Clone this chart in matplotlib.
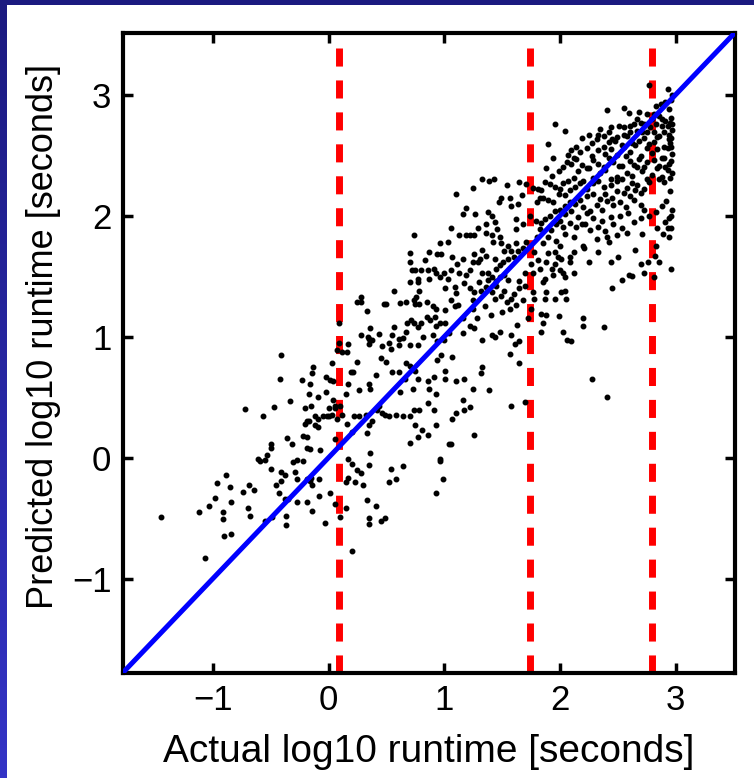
import matplotlib
matplotlib.use('Agg')
import matplotlib.pyplot as plt
import numpy as np
from matplotlib.patches import Rectangle
from matplotlib.colors import LinearSegmentedColormap

plt.rcParams['font.family'] = ['Liberation Sans', 'DejaVu Sans']

# actual vs predicted log10 runtime
low_actual = [-1.45, -1.07, -1.12, -1.03, -0.98, -0.96, -0.89, -0.85, -0.84, -0.91,
              -0.91, -0.90, -0.84, -0.74, -0.69, -0.64, -0.70, -0.68, -0.72, -0.57,
              -0.47, -0.61, -0.59, -0.55, -0.53, -0.50, -0.50, -0.50, -0.55, -0.49,
              -0.45, -0.41, -0.41, -0.38, -0.43, -0.38, -0.35, -0.37, -0.37, -0.36,
              -0.32, -0.31, -0.27, -0.22, -0.29, -0.27, -0.27, -0.19, -0.14, -0.03,
              -0.19, -0.16, -0.15, -0.14, -0.08, -0.08, -0.22, -0.19, -0.19, -0.16,
              -0.07, -0.19, -0.20, -0.17, -0.12, -0.09, -0.05, -0.01, -0.12, -0.09,
              -0.15, -0.20, 0.00, -0.41, -0.42, -0.33, 0.20]
low_predicted = [-0.49, -0.83, -0.45, -0.40, -0.33, -0.21, -0.14, -0.24, -0.37, -0.45,
                 -0.51, -0.65, -0.63, -0.28, -0.23, -0.27, -0.42, -0.48, 0.40, 0.34,
                 0.42, -0.01, -0.03, -0.02, 0.02, 0.11, 0.08, -0.09, -0.52, -0.49,
                 -0.23, -0.19, -0.12, -0.14, -0.29, -0.34, -0.34, -0.48, -0.56, 0.16,
                 0.11, -0.04, -0.02, -0.03, -0.12, -0.18, -0.37, -0.37, -0.44, -0.54,
                 -0.18, -0.19, -0.17, -0.23, -0.32, -0.18, 0.18, 0.17, 0.08, 0.07,
                 0.06, 0.30, 0.28, 0.30, 0.34, 0.32, 0.34, 0.34, 0.27, 0.25,
                 0.43, 0.41, 0.41, 0.85, 0.65, 0.47, -0.77]

mid_actual = [0.28, 0.25, 0.28, 0.33, 0.57, 0.48, 0.50, 0.62, 0.67, 0.74,
              0.76, 0.78, 0.75, 0.78, 0.85, 0.90, 0.93, 1.01, 1.01, 1.09,
              1.10, 1.06, 1.09, 1.12, 0.70, 0.77,
              0.09, 0.09, 0.17, 0.28, 0.34, 0.35, 0.35, 0.36, 0.44, 0.38,
              0.52, 0.55, 0.57, 0.61, 0.64, 0.67, 0.68, 0.71, 0.74, 0.77,
              0.80, 0.85, 0.88, 0.92, 0.93, 0.96, 1.01, 1.04, 0.90, 0.82,
              0.77, 0.70, 0.61, 0.54, 0.46, 0.94, 1.00,
              0.12, 0.16, 0.07, 0.03, -0.02, 0.01, 0.04, -0.13, -0.14, -0.23,
              -0.16, -0.17, -0.09, -0.02, 0.04, 0.06, 0.10, 0.15, 0.17, 0.19,
              0.21, 0.26, 0.25, 0.35, 0.36, 0.41, 0.45, 0.50, 0.55, 0.61,
              0.67, 0.66, 0.62, 0.73, 0.77, 0.86, 0.87, 0.93, 0.91, 1.01,
              1.01, 0.97, 0.94, 1.07, 1.10, 0.75, 0.70,
              0.00, 0.03, 0.06, 0.07, 0.12, 0.16, 0.22, 0.26, 0.32, 0.35,
              0.38, 0.44, 0.42, 0.46, 0.49, 0.52, 0.58, 0.64, 0.70, 0.74,
              0.78, 0.86, 0.91, 0.75, 0.81, 0.86, 0.77, 0.93, 1.07, 1.10,
              0.70, 1.04, 0.06, 0.20, 0.33,
              0.36, 0.35, 0.17, 0.20, 0.25, 0.28, 0.17, 0.30, 0.23, 0.15,
              0.33, 0.41, 0.35, 0.35, 0.45, 0.49, 0.52, 0.58, 0.64, 0.54,
              0.96, 0.96, 0.99, 0.93, 1.06, 0.01, 0.06, 0.15, 0.10]
mid_predicted = [1.33, 1.29, 1.29, 1.21, 1.38, 1.27, 1.27, 1.28, 1.29, 1.30,
                 1.33, 1.38, 1.27, 1.27, 1.29, 1.25, 1.23, 1.22, 1.40, 1.41,
                 1.36, 1.30, 1.25, 1.26, 1.45, 1.45,
                 1.11, 0.95, 0.94, 1.01, 1.00, 0.94, 0.98, 1.07, 1.02, 0.97,
                 0.95, 1.01, 1.08, 0.98, 0.99, 1.04, 1.11, 1.14, 1.11, 1.08,
                 1.11, 1.16, 1.14, 1.16, 1.09, 1.11, 1.11, 1.03, 1.01, 1.00,
                 0.93, 0.93, 0.93, 0.90, 0.92, 0.96, 0.97,
                 0.87, 0.87, 0.89, 0.78, 0.67, 0.64, 0.63, 0.75, 0.70, 0.64,
                 0.61, 0.53, 0.50, 0.54, 0.48, 0.43, 0.43, 0.53, 0.61, 0.71,
                 0.71, 0.56, 0.79, 0.61, 0.57, 0.68, 0.82, 0.79, 0.71, 0.71,
                 0.78, 0.65, 0.54, 0.57, 0.65, 0.63, 0.57, 0.53, 0.67, 0.72,
                 0.65, 0.85, 0.81, 0.83, 0.63, 0.72, 0.76,
                 0.34, 0.35, 0.41, 0.32, 0.35, 0.28, 0.34, 0.34, 0.35, 0.27,
                 0.30, 0.43, 0.39, 0.37, 0.35, 0.34, 0.35, 0.34, 0.34, 0.39,
                 0.39, 0.45, 0.39, 0.27, 0.23, 0.19, 0.17, 0.27, 0.32, 0.37,
                 0.12, 0.11, 0.15, 0.21, 0.20,
                 0.04, -0.06, -0.01, -0.05, -0.10, -0.13, -0.17, -0.23, -0.20, -0.20,
                 -0.35, -0.40, -0.50, -0.55, -0.52, -0.50, -0.20, -0.18, -0.07, -0.09,
                 -0.01, -0.03, -0.18, -0.29, 0.11, -0.29, -0.38, -0.42, -0.49]

upper_actual = [1.10, 1.25, 1.33, 1.39, 1.43, 1.54, 1.65, 1.49, 1.47, 1.57,
                1.58, 1.64, 1.67, 1.71, 1.77, 1.81, 1.83, 1.80, 1.74, 1.79,
                1.83, 1.16, 1.19, 1.27, 1.38, 1.41, 1.44, 1.62, 1.68, 1.62,
                1.06, 1.13, 1.19, 1.22, 1.26, 1.29, 1.36, 1.36, 1.41, 1.46,
                1.48, 1.49, 1.42, 1.52, 1.55, 1.58, 1.62, 1.64, 1.68, 1.71,
                1.60, 1.55, 1.51, 1.44, 1.36, 1.33, 1.31, 1.26, 1.29, 1.25,
                1.22, 1.19, 1.13, 1.11, 1.16, 1.07, 1.03, 0.96, 0.94, 0.97,
                0.87, 0.83, 0.91, 0.93, 0.86, 1.00, 1.06, 0.87, 0.96, 1.03,
                1.33, 1.38, 1.41, 1.45, 1.48, 1.48, 1.52, 1.45, 1.70, 1.65,
                1.75, 1.77, 1.81, 1.83,
                1.17, 1.22, 1.26, 1.32, 1.36, 1.41, 1.44, 1.49, 1.54, 1.58,
                1.57, 1.65, 1.62, 1.75, 1.77, 1.78, 1.25, 1.22, 1.16, 1.16,
                1.26, 1.33, 1.41, 1.44, 1.48, 1.58, 1.61, 1.65, 1.57, 1.65,
                1.33, 1.32, 1.25, 1.39, 1.17, 1.16, 1.22, 1.17, 1.58, 1.70,
                1.26, 0.74, 0.70, 0.70, 0.72, 0.75, 0.80, 0.77]
upper_predicted = [2.18, 2.23, 2.30, 2.29, 2.30, 2.25, 2.28, 2.15, 2.11, 2.15,
                   2.08, 2.10, 2.17, 2.26, 2.23, 2.22, 2.15, 2.11, 2.00, 1.96,
                   1.89, 2.01, 2.06, 2.01, 2.03, 2.00, 1.95, 1.97, 1.93, 1.89,
                   1.90, 1.84, 1.84, 1.84, 1.84, 1.90, 1.93, 1.86, 1.84, 1.89,
                   1.82, 1.77, 1.78, 1.71, 1.75, 1.71, 1.77, 1.71, 1.73, 1.78,
                   1.66, 1.64, 1.62, 1.64, 1.67, 1.72, 1.64, 1.68, 1.62, 1.62,
                   1.55, 1.51, 1.53, 1.60, 1.64, 1.66, 1.78, 1.77, 1.68, 1.68,
                   1.70, 1.63, 1.56, 1.53, 1.55, 1.53, 1.55, 1.48, 1.49, 1.48,
                   1.53, 1.53, 1.49, 1.56, 1.59, 1.49, 1.51, 1.46, 1.53, 1.46,
                   1.60, 1.53, 1.63, 1.56,
                   1.44, 1.40, 1.37, 1.38, 1.41, 1.37, 1.31, 1.34, 1.29, 1.31,
                   1.23, 1.40, 1.26, 1.23, 1.37, 1.31, 1.23, 1.09, 1.15, 1.03,
                   1.07, 0.97, 1.01, 1.00, 1.04, 1.01, 0.94, 0.96, 0.86, 0.78,
                   0.75, 0.70, 0.57, 0.56, 0.65, 0.48, 0.42, 0.39, 0.43, 0.46,
                   0.19, 1.84, 1.69, 1.62, 1.55, 1.55, 1.55, 1.48]

top_actual = [2.77, 2.93, 2.83, 2.87, 2.91, 2.94, 2.96, 2.97, 1.96, 2.04,
              2.41, 2.55, 2.60, 2.68, 2.67, 2.75, 2.80, 2.81, 2.86, 2.88,
              2.91, 2.96, 2.95, 2.97, 2.93, 2.88, 2.83, 2.78, 2.73, 2.70,
              2.64, 2.61, 2.55, 2.51, 2.44, 2.35, 2.33, 2.38, 2.42, 2.45,
              2.49, 2.55, 2.61, 2.67, 2.71, 2.75, 2.81, 2.86, 2.90, 2.94,
              2.97, 2.96, 2.95, 2.94, 2.90, 2.84, 2.81, 2.77, 2.73, 2.68,
              2.62, 2.58, 2.54, 2.48, 2.42, 2.38, 2.32, 2.28, 2.25, 2.19,
              2.14, 2.10, 2.07, 2.12, 2.17, 2.23, 2.28, 2.33, 2.39, 2.44,
              2.49, 2.55, 2.61, 2.65, 2.70, 2.75, 2.80, 2.84, 2.88, 2.93,
              2.97, 2.96, 1.90, 1.94, 1.88, 1.93, 1.99, 2.03, 2.06, 2.10,
              2.14, 2.19, 2.23, 2.29, 2.33, 2.38, 2.42, 2.46, 2.51, 2.57,
              2.61, 2.64, 2.68, 2.73, 2.75, 2.81, 2.86, 2.90, 2.94, 2.96,
              2.95, 2.97, 2.93, 2.88, 2.84, 2.80, 2.75, 2.71, 2.67, 2.62,
              2.58, 2.54, 2.49, 2.44, 2.39, 2.35, 2.29, 2.25, 2.20, 2.16,
              2.12, 2.07, 2.03, 2.00, 1.96, 1.91, 1.87, 1.84, 1.85, 1.90,
              1.94, 1.99, 2.04, 2.09, 2.13, 2.17, 2.23, 2.29, 2.33, 2.38,
              2.44, 2.49, 2.54, 2.58, 2.62, 2.67, 2.73, 2.77, 2.70, 2.65,
              2.61, 2.55, 2.49, 2.45, 2.39, 2.35, 2.29, 2.23, 2.17, 2.13,
              2.09, 2.04, 2.00, 1.96, 1.91, 1.87, 1.84, 2.20, 2.26, 2.32,
              2.36, 2.41, 2.46, 2.52, 2.57, 2.64, 2.70, 2.73, 2.59, 2.52,
              2.44, 2.36, 2.29, 2.23, 2.16, 2.10, 2.04, 2.00, 1.97, 2.03,
              2.09, 2.14, 2.22, 2.26, 2.33, 2.39, 2.46, 2.54, 2.64, 2.70,
              2.77, 2.83, 2.91, 2.96, 2.84, 2.93, 2.94, 2.83, 2.71, 2.58,
              2.49, 2.41, 2.32, 2.20, 2.12, 2.04, 1.97, 1.90, 2.19]
top_predicted = [3.08, 3.05, 2.91, 2.92, 2.94, 2.88, 2.96, 3.00, 2.76, 2.70,
                 2.87, 2.89, 2.85, 2.86, 2.80, 2.84, 2.80, 2.84, 2.82, 2.80,
                 2.78, 2.81, 2.77, 2.76, 2.74, 2.74, 2.76, 2.73, 2.76, 2.77,
                 2.76, 2.74, 2.73, 2.74, 2.73, 2.72, 2.67, 2.66, 2.69, 2.63,
                 2.65, 2.67, 2.69, 2.70, 2.69, 2.69, 2.69, 2.66, 2.69, 2.67,
                 2.71, 2.64, 2.60, 2.63, 2.57, 2.65, 2.61, 2.59, 2.64, 2.62,
                 2.60, 2.66, 2.58, 2.62, 2.61, 2.57, 2.63, 2.60, 2.67, 2.64,
                 2.57, 2.54, 2.50, 2.48, 2.53, 2.56, 2.49, 2.54, 2.51, 2.55,
                 2.50, 2.57, 2.53, 2.58, 2.49, 2.56, 2.52, 2.55, 2.48, 2.56,
                 2.51, 2.57, 2.59, 2.48, 2.39, 2.33, 2.37, 2.40, 2.44, 2.43,
                 2.47, 2.42, 2.39, 2.46, 2.43, 2.40, 2.48, 2.44, 2.41, 2.49,
                 2.45, 2.42, 2.47, 2.40, 2.44, 2.46, 2.41, 2.48, 2.43, 2.45,
                 2.31, 2.35, 2.38, 2.32, 2.39, 2.34, 2.30, 2.37, 2.40, 2.33,
                 2.35, 2.41, 2.32, 2.30, 2.38, 2.35, 2.31, 2.39, 2.29, 2.37,
                 2.31, 2.29, 2.27, 2.22, 2.24, 2.26, 2.28, 2.21, 2.15, 2.13,
                 2.11, 2.18, 2.17, 2.21, 2.24, 2.27, 2.22, 2.27, 2.29, 2.24,
                 2.25, 2.29, 2.30, 2.23, 2.27, 2.25, 2.22, 2.28, 2.19, 2.21,
                 2.16, 2.19, 2.20, 2.15, 2.18, 2.14, 2.18, 2.16, 2.13, 2.10,
                 2.11, 2.08, 2.05, 2.04, 2.00, 1.97, 1.94, 2.07, 2.04, 2.09,
                 2.05, 2.12, 2.09, 2.11, 2.07, 2.13, 2.09, 2.05, 2.02, 2.00,
                 1.99, 1.96, 1.98, 2.02, 1.99, 2.04, 2.01, 1.96, 1.93, 1.91,
                 1.94, 1.91, 1.93, 1.88, 1.91, 1.87, 1.93, 1.90, 1.95, 1.98,
                 2.00, 2.03, 1.95, 2.00, 1.90, 1.90, 1.82, 1.75, 1.85, 1.86,
                 1.84, 1.82, 1.81, 1.75, 1.82, 1.85, 1.79, 1.82, 1.93]

right_actual = [1.85, 1.90, 1.96, 2.00, 2.01, 1.96, 1.93, 1.94, 2.00, 2.03,
                2.04, 2.09, 2.09, 2.12, 2.21, 2.12, 1.87, 1.85, 1.88, 1.87,
                1.96, 2.01, 2.04, 2.05, 1.84, 1.88, 1.99, 1.85, 1.84, 2.03,
                2.06, 2.10, 2.20, 2.20, 2.38, 2.28, 2.41, 2.44, 2.45, 2.54,
                2.60, 2.62, 2.70, 2.73, 2.82, 2.86, 2.96, 2.81]
right_predicted = [1.77, 1.69, 1.70, 1.75, 1.64, 1.60, 1.56, 1.51, 1.55, 1.53,
                   1.49, 1.66, 1.62, 1.70, 1.73, 1.53, 1.48, 1.45, 1.37, 1.31,
                   1.31, 1.37, 1.38, 1.31, 1.19, 1.18, 1.17, 1.11, 1.04, 1.04,
                   0.97, 0.96, 1.15, 1.09, 1.08, 0.65, 0.50, 1.62, 1.40, 1.47,
                   1.51, 1.50, 1.60, 1.53, 1.67, 1.62, 1.56, 1.49]

extra_actual = [1.25, 1.30, 1.35, 1.40, 1.45, 1.50, 1.55, 1.60, 1.68, 1.70,
                1.72, 1.28, 1.38, 1.52, 1.63, 1.78, 1.80, 1.88, 1.92, 1.98,
                2.25, 2.33, 2.50, 2.65, 2.76, 2.42, 2.90, 2.95, 2.92, 2.97,
                2.88, 2.94, 2.89, 2.96, 2.91, 2.86]
extra_predicted = [1.30, 1.45, 1.25, 1.18, 1.42, 1.20, 1.47, 1.35, 1.30, 1.42,
                   1.15, 1.15, 1.47, 1.38, 1.10, 1.70, 1.82, 1.62, 1.88, 1.66,
                   1.62, 1.70, 1.66, 1.72, 1.62, 1.78, 2.28, 2.20, 2.12, 2.05,
                   2.08, 1.98, 1.85, 1.90, 2.40, 2.30]

axis_limits = [-1.78, 3.51]
tick_values = [-1, 0, 1, 2, 3]
split_points = [0.09, 1.74, 2.80]

actual = low_actual + mid_actual + upper_actual + top_actual + right_actual + extra_actual
predicted = (low_predicted + mid_predicted + upper_predicted + top_predicted
             + right_predicted + extra_predicted)

fig = plt.figure(figsize=(7.54, 7.78), dpi=100)
fig.patch.set_facecolor('#1b1a80')
fig.add_artist(Rectangle((7 / 754, 0), 1, 1 - 5 / 778, transform=fig.transFigure,
                         facecolor='white', edgecolor='none', zorder=0))

# blue slide gradient on the left strip
strip = fig.add_axes([0, 0, 7 / 754, 1 - 5 / 778])
strip.imshow(np.linspace(0, 1, 256).reshape(-1, 1), aspect='auto',
             cmap=LinearSegmentedColormap.from_list('slide', ['#1b1a80', '#3434c6']))
strip.axis('off')

ax = fig.add_axes([0.1626, 0.1350, 0.8117, 0.8226])
for s in split_points:
    ax.axvline(s, color='#ff0000', lw=5, dashes=(2.6, 2.0), zorder=1)
ax.plot(actual, predicted, 'k.', ms=6.5, zorder=2)
ax.axline((0, 0), slope=1, color='#0000ff', lw=3.6, zorder=3)

ax.set_xlim(axis_limits)
ax.set_ylim(axis_limits)
ax.set_xticks(tick_values)
ax.set_yticks(tick_values)
ax.tick_params(direction='in', length=7, width=2.5, top=True, right=True,
               labelsize=25, pad=8)
for sp in ax.spines.values():
    sp.set_linewidth(3)

ax.set_xlabel('Actual log10 runtime [seconds]', fontsize=28, labelpad=12)
ax.set_ylabel('Predicted log10 runtime [seconds]', fontsize=26)
ax.yaxis.set_label_coords(-0.1, 0.526)

fig.savefig('out.png', dpi=100, facecolor=fig.get_facecolor())
